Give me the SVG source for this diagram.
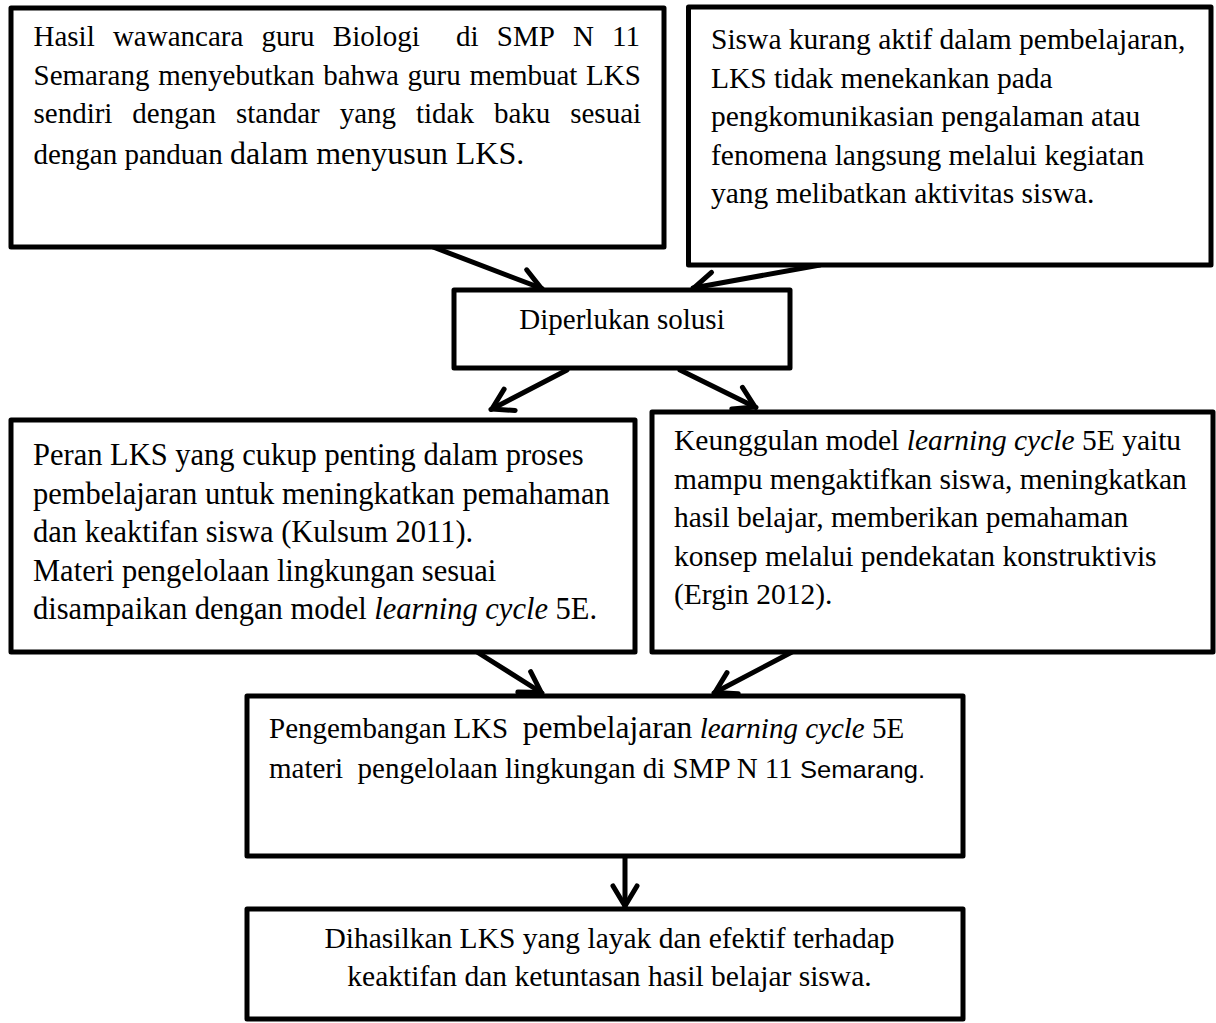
<svg xmlns="http://www.w3.org/2000/svg" width="1216" height="1023" viewBox="0 0 1216 1023">
<style>
.box{fill:#fff;stroke:#000;stroke-width:5;stroke-linejoin:round}
.t{font-family:"Liberation Serif","Times New Roman",serif;fill:#000}
.i{font-style:italic}
.conn{stroke:#000;stroke-width:5;fill:none;stroke-linecap:round}
</style>
<defs>
<marker id="ah" markerUnits="userSpaceOnUse" markerWidth="40" markerHeight="40" viewBox="-30 -20 40 40" refX="0" refY="0" orient="auto" overflow="visible">
<path d="M-21,-12 L-1,0 L-21,12" fill="none" stroke="#000" stroke-width="5" stroke-linecap="round" stroke-linejoin="round"/>
</marker>
</defs>
<rect width="1216" height="1023" fill="#fff"/>

<g id="connectors">
<line class="conn" x1="433" y1="247" x2="542" y2="288.5" marker-end="url(#ah)"/>
<line class="conn" x1="820" y1="265" x2="693" y2="288" marker-end="url(#ah)"/>
<line class="conn" x1="567" y1="370" x2="491" y2="409.5" marker-end="url(#ah)"/>
<line class="conn" x1="680" y1="370" x2="756" y2="407.5" marker-end="url(#ah)"/>
<line class="conn" x1="477" y1="652" x2="542" y2="693" marker-end="url(#ah)"/>
<line class="conn" x1="792" y1="652" x2="714" y2="693" marker-end="url(#ah)"/>
<line class="conn" x1="625" y1="856" x2="625" y2="907" marker-end="url(#ah)"/>
</g>

<g id="node1">
<rect class="box" x="11" y="8" width="653" height="239"/>
<text class="t" y="46" font-size="29"><tspan x="33.5">Hasil</tspan><tspan x="112.9">wawancara</tspan><tspan x="261.4">guru</tspan><tspan x="332.8">Biologi</tspan><tspan x="456.1">di</tspan><tspan x="496.8">SMP</tspan><tspan x="573">N</tspan><tspan x="612">11</tspan></text>
<text class="t" y="84.5" font-size="29"><tspan x="33.5">Semarang</tspan><tspan x="158.2">menyebutkan</tspan><tspan x="323.2">bahwa</tspan><tspan x="407.6">guru</tspan><tspan x="469.5">membuat</tspan><tspan x="586.1">LKS</tspan></text>
<text class="t" y="123" font-size="29"><tspan x="33.5">sendiri</tspan><tspan x="132.3">dengan</tspan><tspan x="236">standar</tspan><tspan x="339.7">yang</tspan><tspan x="416">tidak</tspan><tspan x="493.9">baku</tspan><tspan x="570.2">sesuai</tspan></text>
<text class="t" x="33.5" y="164" font-size="29">dengan panduan <tspan font-size="32">dalam menyusun LKS.</tspan></text>
</g>

<g id="node2">
<rect class="box" x="688.5" y="7" width="522.5" height="258"/>
<text class="t" x="711" y="49" font-size="29.5">Siswa kurang aktif dalam pembelajaran,</text>
<text class="t" x="711" y="87.5" font-size="29.5">LKS tidak menekankan pada</text>
<text class="t" x="711" y="126" font-size="29.5">pengkomunikasian pengalaman atau</text>
<text class="t" x="711" y="164.5" font-size="29.5">fenomena langsung melalui kegiatan</text>
<text class="t" x="711" y="203" font-size="29.5">yang melibatkan aktivitas siswa.</text>
</g>

<g id="node3">
<rect class="box" x="454" y="290" width="336" height="78"/>
<text class="t" x="622" y="329" font-size="29" text-anchor="middle">Diperlukan solusi</text>
</g>

<g id="node4">
<rect class="box" x="11" y="420" width="624" height="232"/>
<text class="t" x="33" y="465" font-size="30.5">Peran LKS yang cukup penting dalam proses</text>
<text class="t" x="33" y="503.5" font-size="30.5">pembelajaran untuk meningkatkan pemahaman</text>
<text class="t" x="33" y="542" font-size="30.5">dan keaktifan siswa (Kulsum 2011).</text>
<text class="t" x="33" y="580.5" font-size="30.5">Materi pengelolaan lingkungan sesuai</text>
<text class="t" x="33" y="619" font-size="30.5">disampaikan dengan model <tspan class="i">learning cycle</tspan> 5E.</text>
</g>

<g id="node5">
<rect class="box" x="652" y="412" width="561" height="240"/>
<text class="t" x="674" y="450" font-size="29.5">Keunggulan model <tspan class="i">learning cycle</tspan> 5E yaitu</text>
<text class="t" x="674" y="488.5" font-size="29.5">mampu mengaktifkan siswa, meningkatkan</text>
<text class="t" x="674" y="527" font-size="29.5">hasil belajar, memberikan pemahaman</text>
<text class="t" x="674" y="565.5" font-size="29.5">konsep melalui pendekatan konstruktivis</text>
<text class="t" x="674" y="604" font-size="29.5">(Ergin 2012).</text>
</g>

<g id="node6">
<rect class="box" x="247" y="696" width="716" height="160"/>
<text class="t" x="269" y="738" font-size="29" style="white-space:pre">Pengembangan LKS  <tspan font-size="31.5">pembelajaran</tspan> <tspan class="i">learning cycle</tspan> 5E</text>
<text class="t" x="269" y="778" font-size="29" style="white-space:pre">materi  pengelolaan lingkungan di SMP N 11 <tspan font-family="'Liberation Sans', Arial, sans-serif" font-size="24" textLength="125" lengthAdjust="spacingAndGlyphs">Semarang.</tspan></text>
</g>

<g id="node7">
<rect class="box" x="247" y="909" width="716" height="110"/>
<text class="t" x="609.5" y="948" font-size="29.5" text-anchor="middle">Dihasilkan LKS yang layak dan efektif terhadap</text>
<text class="t" x="609.5" y="986" font-size="29.5" text-anchor="middle">keaktifan dan ketuntasan hasil belajar siswa.</text>
</g>
</svg>
